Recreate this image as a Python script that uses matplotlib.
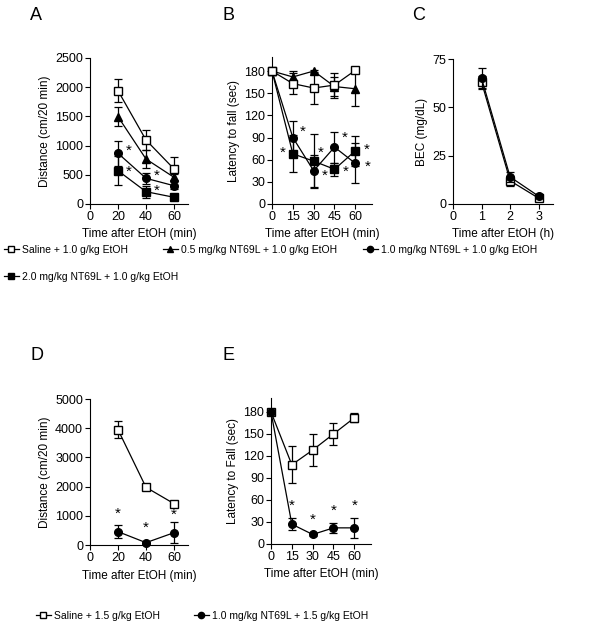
import matplotlib
matplotlib.use("Agg")
import matplotlib.pyplot as plt
from matplotlib.lines import Line2D

plt.rcParams['font.family'] = ['Liberation Sans', 'DejaVu Sans']
plt.rcParams['font.size'] = 8

# --- data ---
t_act = [20, 40, 60]
t_rot = [0, 15, 30, 45, 60]
t_bec = [1, 2, 3]

# A: locomotor distance, 1.0 g/kg EtOH
a_saline = [1940, 1096, 600]
a_saline_err = [200, 170, 200]
a_nt05 = [1495, 770, 457]
a_nt05_err = [165, 155, 50]
a_nt10 = [868, 440, 313]
a_nt10_err = [216, 95, 60]
a_nt20 = [570, 211, 115]
a_nt20_err = [245, 100, 50]
a_stars = [(28, 915), (28, 555), (48, 486), (48, 223)]

# B: rotarod latency, 1.0 g/kg EtOH
b_saline = [180, 163, 157, 161, 181]
b_saline_err = [0, 14, 21, 17, 3]
b_nt05 = [180, 172, 180, 159, 156]
b_nt05_err = [0, 8, 1, 13, 23]
b_nt10 = [180, 90, 45, 77, 55]
b_nt10_err = [0, 23, 22, 21, 27]
b_nt20 = [180, 68, 58, 47, 72]
b_nt20_err = [0, 25, 37, 9, 20]
b_stars = [(7.7, 70), (22.2, 98), (35.2, 70), (37.8, 38), (52.3, 89), (52.8, 43), (68, 74), (69, 50)]

# C: blood ethanol concentration
c_saline = [63, 12, 3]
c_saline_err = [3, 2.5, 1]
c_nt10 = [65, 14, 4]
c_nt10_err = [5.5, 2.5, 1]

# D: locomotor distance, 1.5 g/kg EtOH
d_saline = [3950, 1975, 1416]
d_saline_err = [280, 60, 60]
d_nt10 = [457, 80, 422]
d_nt10_err = [220, 30, 370]
d_stars = [(20, 1085), (40, 605), (60, 1028)]

# E: rotarod latency, 1.5 g/kg EtOH
e_saline = [180, 108, 128, 150, 172]
e_saline_err = [0, 25, 22, 15, 6]
e_nt10 = [180, 27, 13, 22, 22]
e_nt10_err = [0, 8, 2, 7, 14]
e_stars = [(15, 52), (30, 33), (45, 45), (60, 52)]

legend1 = ['Saline + 1.0 g/kg EtOH', '0.5 mg/kg NT69L + 1.0 g/kg EtOH',
           '1.0 mg/kg NT69L + 1.0 g/kg EtOH', '2.0 mg/kg NT69L + 1.0 g/kg EtOH']
legend2 = ['Saline + 1.5 g/kg EtOH', '1.0 mg/kg NT69L + 1.5 g/kg EtOH']

W, H = 614, 628
fig = plt.figure(figsize=(W / 100, H / 100), dpi=100)

TICK_FS = 9
LAB_FS = 8.5


def add_ax(x0, x1, ytop, ybot):
    ax = fig.add_axes([x0 / W, 1 - ybot / H, (x1 - x0) / W, (ybot - ytop) / H])
    for s in ['top', 'right']:
        ax.spines[s].set_visible(False)
    ax.tick_params(direction='out', length=3.5, width=0.8, labelsize=TICK_FS, pad=1.5)
    for s in ['left', 'bottom']:
        ax.spines[s].set_linewidth(0.8)
    return ax


def labels(ax, xl, yl):
    ax.set_xlabel(xl, fontsize=LAB_FS, labelpad=4)
    ax.set_ylabel(yl, fontsize=LAB_FS, labelpad=3)


STY = {
    'saline': dict(marker='s', mfc='white', mec='black', ms=5.5),
    'nt05': dict(marker='^', mfc='black', mec='black', ms=5.5),
    'nt10': dict(marker='o', mfc='black', mec='black', ms=5.5),
    'nt20': dict(marker='s', mfc='black', mec='black', ms=5.5),
}


def series(ax, x, y, err, key, z):
    ax.errorbar(x, y, yerr=err, color='black', lw=0.9, elinewidth=0.9,
                capsize=3, capthick=0.9, zorder=z, clip_on=False, **STY[key])


def stars(ax, pts):
    for x, y in pts:
        ax.text(x, y, '*', fontsize=11, ha='center', va='center')


# A
ax = add_ax(90, 188, 58, 204)
series(ax, t_act, a_nt20, a_nt20_err, 'nt20', 3)
series(ax, t_act, a_nt10, a_nt10_err, 'nt10', 3)
series(ax, t_act, a_nt05, a_nt05_err, 'nt05', 3)
series(ax, t_act, a_saline, a_saline_err, 'saline', 4)
stars(ax, a_stars)
ax.set_xlim(0, 70)
ax.set_ylim(0, 2500)
ax.set_xticks([0, 20, 40, 60])
ax.set_yticks([0, 500, 1000, 1500, 2000, 2500])
labels(ax, 'Time after EtOH (min)', 'Distance (cm/20 min)')
fig.text(30 / W, 1 - 16 / H, 'A', fontsize=13, va='center')

# B
ax = add_ax(272, 372, 57, 204)
series(ax, t_rot, b_nt20, b_nt20_err, 'nt20', 3)
series(ax, t_rot, b_nt10, b_nt10_err, 'nt10', 3)
series(ax, t_rot, b_nt05, b_nt05_err, 'nt05', 3)
series(ax, t_rot, b_saline, b_saline_err, 'saline', 4)
stars(ax, b_stars)
ax.set_xlim(0, 72)
ax.set_ylim(0, 199)
ax.set_xticks([0, 15, 30, 45, 60])
ax.set_yticks([0, 30, 60, 90, 120, 150, 180])
labels(ax, 'Time after EtOH (min)', 'Latency to fall (sec)')
fig.text(222 / W, 1 - 16 / H, 'B', fontsize=13, va='center')

# C
ax = add_ax(453, 553, 59, 204)
series(ax, t_bec, c_saline, c_saline_err, 'saline', 3)
series(ax, t_bec, c_nt10, c_nt10_err, 'nt10', 4)
ax.set_xlim(0, 3.5)
ax.set_ylim(0, 75)
ax.set_xticks([0, 1, 2, 3])
ax.set_yticks([0, 25, 50, 75])
labels(ax, 'Time after EtOH (h)', 'BEC (mg/dL)')
fig.text(412 / W, 1 - 16 / H, 'C', fontsize=13, va='center')

# D
ax = add_ax(90, 188, 399, 545)
series(ax, t_act, d_nt10, d_nt10_err, 'nt10', 3)
series(ax, t_act, d_saline, d_saline_err, 'saline', 4)
stars(ax, d_stars)
ax.set_xlim(0, 70)
ax.set_ylim(0, 5000)
ax.set_xticks([0, 20, 40, 60])
ax.set_yticks([0, 1000, 2000, 3000, 4000, 5000])
labels(ax, 'Time after EtOH (min)', 'Distance (cm/20 min)')
fig.text(30 / W, 1 - 355 / H, 'D', fontsize=13, va='center')

# E
ax = add_ax(271, 371, 398, 544)
series(ax, t_rot, e_saline, e_saline_err, 'saline', 3)
series(ax, t_rot, e_nt10, e_nt10_err, 'nt10', 4)
stars(ax, e_stars)
ax.set_xlim(0, 72)
ax.set_ylim(0, 199)
ax.set_xticks([0, 15, 30, 45, 60])
ax.set_yticks([0, 30, 60, 90, 120, 150, 180])
labels(ax, 'Time after EtOH (min)', 'Latency to Fall (sec)')
fig.text(222 / W, 1 - 355 / H, 'E', fontsize=13, va='center')


# legends
def leg_entry(label, key, x, y):
    h = Line2D([], [], color='black', lw=0.9, ms=4.5,
               **{k: v for k, v in STY[key].items() if k != 'ms'})
    fig.legend([h], [label], loc='center left', bbox_to_anchor=(x / W, 1 - y / H),
               frameon=False, fontsize=7.5, handlelength=1.4, handletextpad=0.3,
               borderpad=0, borderaxespad=0)


leg_entry(legend1[0], 'saline', 4, 250)
leg_entry(legend1[1], 'nt05', 163, 250)
leg_entry(legend1[2], 'nt10', 363, 250)
leg_entry(legend1[3], 'nt20', 4, 277)
leg_entry(legend2[0], 'saline', 36, 616)
leg_entry(legend2[1], 'nt10', 194, 616)

fig.savefig('out.png', dpi=100)
